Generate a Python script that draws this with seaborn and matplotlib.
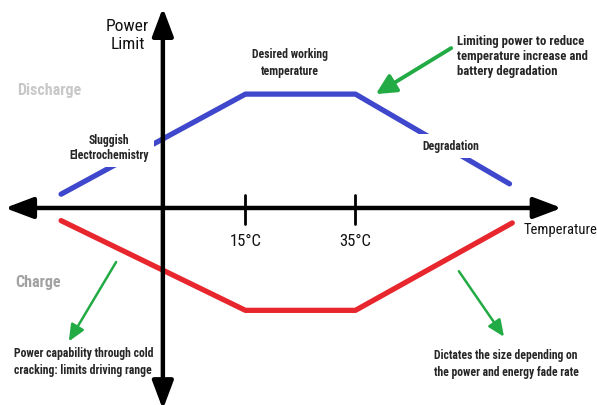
import numpy as np
import pandas as pd
import matplotlib
matplotlib.use("Agg")
import matplotlib.pyplot as plt
import seaborn as sns

# conceptual power-limit curves (temperature in degC, power in relative units)
discharge_temp = [-18.5, 15, 35, 63]
discharge_power = [0.12, 0.99, 0.99, 0.21]
charge_temp = [-18.5, 15, 35, 63.5]
charge_power = [-0.11, -0.89, -0.89, -0.13]
tick_temps = [15, 35]
tick_labels = ["15°C", "35°C"]

sns.set_theme(style="white")
plt.rcParams["font.family"] = ["Roboto Condensed", "DejaVu Sans"]

fig = plt.figure(figsize=(5.97, 4.06), dpi=100)
ax = fig.add_axes([0, 0, 1, 1])
ax.set_xlim(-29.6, 78.9)
ax.set_ylim(-1.713, 1.817)
ax.axis("off")

df = pd.concat([
    pd.DataFrame({"temp": discharge_temp, "power": discharge_power, "mode": "Discharge"}),
    pd.DataFrame({"temp": charge_temp, "power": charge_power, "mode": "Charge"}),
])
sns.lineplot(data=df, x="temp", y="power", hue="mode", sort=False,
             palette={"Discharge": "#3f48cc", "Charge": "#e8262d"},
             lw=3.8, legend=False, ax=ax, zorder=2)

# main axes as double-headed arrows
arrow = dict(arrowstyle="<|-|>,head_length=0.85,head_width=0.32", lw=3.2,
             color="black", shrinkA=0, shrinkB=0, mutation_scale=20)
ax.annotate("", xy=(72.5, 0), xytext=(-28.7, 0), arrowprops=arrow, zorder=5)
ax.annotate("", xy=(0, 1.74), xytext=(0, -1.75), arrowprops=arrow, zorder=5)

for t, lab in zip(tick_temps, tick_labels):
    ax.plot([t, t], [-0.14, 0.11], color="black", lw=2, zorder=5)
    ax.text(t, -0.28, lab, ha="center", va="center", fontsize=12, color="#111111")

ax.text(-6.4, 1.51, "Power\nLimit", ha="center", va="center", fontsize=12.5,
        linespacing=1.25, color="#111111")
ax.text(65.6, -0.18, "Temperature", ha="left", va="center", fontsize=10.5, color="#111111")

ax.text(-26.4, 1.03, "Discharge", ha="left", va="center", fontsize=11.5,
        fontweight="bold", color="#c8c8c8")
ax.text(-26.9, -0.64, "Charge", ha="left", va="center", fontsize=11.5,
        fontweight="bold", color="#a2a2a2")

box = dict(facecolor="white", edgecolor="none", pad=4)
ax.text(-9.8, 0.53, "Sluggish\nElectrochemistry", ha="center", va="center",
        fontsize=8.5, fontweight="bold", bbox=box, zorder=4, linespacing=1.25)
ax.text(52.4, 0.54, "Degradation", ha="center", va="center",
        fontsize=8.5, fontweight="bold", bbox=box, zorder=4)
ax.text(23.1, 1.27, "Desired working\ntemperature", ha="center", va="center",
        fontsize=8.5, fontweight="bold", linespacing=1.35)
ax.text(53.5, 1.33, "Limiting power to reduce\ntemperature increase and\nbattery degradation",
        ha="left", va="center", fontsize=9.2, fontweight="bold", linespacing=1.2)
ax.text(-27.1, -1.33, "Power capability through cold\ncracking: limits driving range",
        ha="left", va="center", fontsize=8.5, fontweight="bold", linespacing=1.35)
ax.text(49.3, -1.35, "Dictates the size depending on\nthe power and energy fade rate",
        ha="left", va="center", fontsize=8.4, fontweight="bold", linespacing=1.35)

green = "#22aa44"
ax.annotate("", xy=(38.7, 0.99), xytext=(52.4, 1.39),
            arrowprops=dict(arrowstyle="-|>,head_length=0.6,head_width=0.3", lw=2.8,
                            color=green, shrinkA=0, shrinkB=0, mutation_scale=20))
ax.annotate("", xy=(-17.1, -1.16), xytext=(-8.5, -0.47),
            arrowprops=dict(arrowstyle="-|>,head_length=0.5,head_width=0.22", lw=1.8,
                            color=green, shrinkA=0, shrinkB=0, mutation_scale=20))
ax.annotate("", xy=(62, -1.12), xytext=(53.8, -0.55),
            arrowprops=dict(arrowstyle="-|>,head_length=0.5,head_width=0.22", lw=1.8,
                            color=green, shrinkA=0, shrinkB=0, mutation_scale=20))

fig.savefig("out.png", dpi=100, facecolor="white")
